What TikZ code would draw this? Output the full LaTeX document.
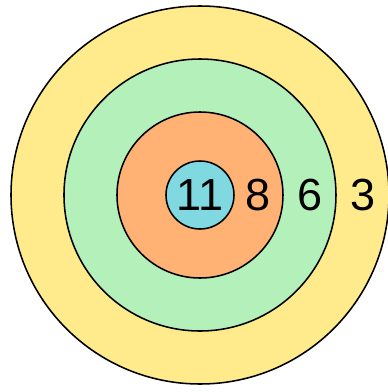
\documentclass[tikz,border=0pt]{standalone}
\usepackage{fontspec}
\setmainfont{Liberation Sans}
\usepackage{xcolor}
\usepackage{tikz}
\usetikzlibrary{positioning}
\definecolor{ringyellow}{RGB}{255,235,140}
\definecolor{ringgreen}{RGB}{180,240,186}
\definecolor{ringorange}{RGB}{255,178,115}
\definecolor{ringblue}{RGB}{128,216,224}

\begin{document}
\begin{tikzpicture}[
  ring/.style={circle, draw=black, line width=1.1pt, inner sep=0pt},
  score/.style={font=\fontsize{32}{38}\selectfont, inner sep=0pt}
]
\useasboundingbox (-5,-4.925) rectangle (4.7,4.875);
% --- rings, outside to inside ---
\foreach \name/\r/\col in {outer/4.725/ringyellow, second/3.4/ringgreen, third/2.075/ringorange} {
  \node[ring, fill=\col, minimum size=2*\r cm] (\name) at (0,0) {};
}
% bull's eye carries its own score
\node[ring, fill=ringblue, minimum size=1.7cm] (bull) at (0,0) {};
\node[score] (s11) at (bull.center) {11};
% --- scores of the other rings ---
\node[score] (s8) at (1.45,0) {8};
\node[score] (s6) at (2.75,0) {6};
\node[score] (s3) at (4.075,0) {3};
\end{tikzpicture}
\end{document}
